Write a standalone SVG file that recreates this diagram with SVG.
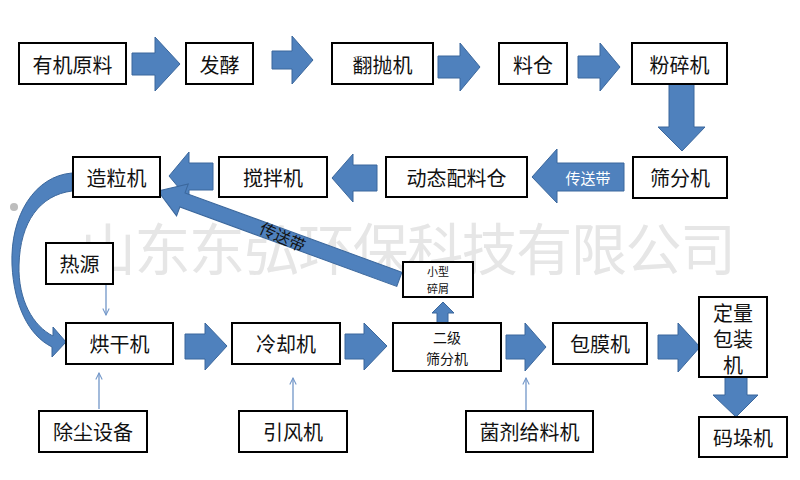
<svg xmlns="http://www.w3.org/2000/svg" width="800" height="480" viewBox="0 0 800 480">
<defs>
<style>
.bx{fill:#fff;stroke:#000;stroke-width:2}
.t{font-family:"Noto Sans CJK SC","Noto Sans",sans-serif;font-size:20px;fill:#111;text-anchor:middle;dominant-baseline:central}
.ar{fill:#4f81bd;stroke:#3b679c;stroke-width:1}
.th{stroke:#7196c8;stroke-width:1.3;fill:none;marker-end:url(#v)}
.wm{font-family:"Noto Sans CJK SC",sans-serif;font-size:56px;fill:#e6e6e6;dominant-baseline:central}
</style>
<marker id="v" viewBox="0 0 10 10" refX="9" refY="5" markerWidth="8" markerHeight="8" markerUnits="userSpaceOnUse" orient="auto">
<path d="M1,1 L9,5 L1,9" fill="none" stroke="#7196c8" stroke-width="1.3"/>
</marker>
</defs>
<rect width="800" height="480" fill="#fff"/>
<text class="wm" x="80" y="245" textLength="656">山东东弘环保科技有限公司</text>
<circle cx="14" cy="207" r="4" fill="#bdbdbd"/>

<g id="connectors">
<polygon class="ar" points="132,53 155,53 155,37 180,64 155,91 155,75 132,75"/>
<polygon class="ar" points="272,51 292,51 292,36 313,60 292,84 292,69 272,69"/>
<polygon class="ar" points="438,56 460,56 460,43 480,67 460,91 460,78 438,78"/>
<polygon class="ar" points="578,56 600,56 600,43 620,67 600,91 600,78 578,78"/>
<polygon class="ar" points="669,84 694,84 694,127 705,127 682,151 658,127 669,127"/>
<polygon class="ar" points="624,163 557,163 557,149 532,177 557,203 557,191 624,191"/>
<text x="588" y="177" style="font-family:'Noto Sans CJK SC',sans-serif;font-size:15px;fill:#fff;text-anchor:middle;dominant-baseline:central">传送带</text>
<polygon class="ar" points="377,165 353,165 353,154 332,178 353,202 353,191 377,191"/>
<polygon class="ar" points="213,163 189,163 189,152 169,176 189,200 189,190 213,190"/>
<g transform="translate(158,191) rotate(20.1)">
<polygon class="ar" points="0,0 26,-17 26,-7.5 257,-7.5 257,7.5 26,7.5 26,17"/>
</g>
<text x="283" y="236" transform="rotate(24 283 236)" style="font-family:'Noto Sans CJK SC',sans-serif;font-size:16px;fill:#111;text-anchor:middle;dominant-baseline:central">传送带</text>
<path class="ar" d="M72,173 C35,176 10,215 12,265 C14,305 28,335 52,347 L52,357 L66,342 L53,327 L53,336 C33,326 18,300 19,265 C20,222 40,195 72,191 Z"/>
<polygon class="ar" points="185,334 205,334 205,323 227,346 205,370 205,359 185,359"/>
<polygon class="ar" points="345,334 364,334 364,323 387,346 364,370 364,359 345,359"/>
<polygon class="ar" points="506,335 525,335 525,323 546,347 525,371 525,359 506,359"/>
<polygon class="ar" points="658,335 678,335 678,323 700,347 678,372 678,359 658,359"/>
<polygon class="ar" points="437,323 437,313 432,313 443,302 454,313 448,313 448,323"/>
<polygon class="ar" points="725,377 747,377 747,395 758,395 736,417 713,395 725,395"/>
<line class="th" x1="106" y1="285" x2="106" y2="315"/>
<line class="th" x1="99" y1="409" x2="99" y2="373"/>
<line class="th" x1="293" y1="410" x2="293" y2="378"/>
<line class="th" x1="526" y1="410" x2="526" y2="378"/>
</g>

<g id="n1"><rect class="bx" x="19" y="43" width="107" height="41"/><text class="t" x="72.5" y="64">有机原料</text></g>
<g id="n2"><rect class="bx" x="186" y="43" width="67" height="41"/><text class="t" x="219.5" y="64">发酵</text></g>
<g id="n3"><rect class="bx" x="332" y="43" width="101" height="41"/><text class="t" x="382.5" y="64">翻抛机</text></g>
<g id="n4"><rect class="bx" x="499" y="43" width="68" height="41"/><text class="t" x="533" y="64">料仓</text></g>
<g id="n5"><rect class="bx" x="632" y="43" width="95" height="41"/><text class="t" x="679.5" y="64">粉碎机</text></g>
<g id="n6"><rect class="bx" x="633" y="157" width="94" height="41"/><text class="t" x="680" y="177.5">筛分机</text></g>
<g id="n7"><rect class="bx" x="386" y="157" width="141" height="40"/><text class="t" x="456.5" y="177">动态配料仓</text></g>
<g id="n8"><rect class="bx" x="219" y="157" width="108" height="40"/><text class="t" x="273" y="177">搅拌机</text></g>
<g id="n9"><rect class="bx" x="73" y="157" width="87" height="40"/><text class="t" x="116.5" y="177">造粒机</text></g>
<g id="n10"><rect class="bx" x="46" y="243" width="67" height="41"/><text class="t" x="79.5" y="263.5">热源</text></g>
<g id="n11"><rect class="bx" x="66" y="323" width="107" height="41"/><text class="t" x="119.5" y="343.5">烘干机</text></g>
<g id="n12"><rect class="bx" x="232" y="323" width="108" height="41"/><text class="t" x="286" y="343.5">冷却机</text></g>
<g id="n13"><rect class="bx" x="393" y="323" width="108" height="48"/><text class="t" x="447" y="337" style="font-size:14px">二级</text><text class="t" x="447" y="358" style="font-size:14px">筛分机</text></g>
<g id="n14"><rect class="bx" x="403" y="262" width="70" height="35"/><text class="t" x="438" y="271" style="font-size:11px">小型</text><text class="t" x="438" y="288" style="font-size:11px">碎屑</text></g>
<g id="n15"><rect class="bx" x="553" y="323" width="94" height="41"/><text class="t" x="600" y="343.5">包膜机</text></g>
<g id="n16"><rect class="bx" x="699" y="297" width="68" height="80"/><text class="t" x="733" y="312">定量</text><text class="t" x="733" y="338">包装</text><text class="t" x="733" y="364">机</text></g>
<g id="n17"><rect class="bx" x="699" y="417" width="88" height="40"/><text class="t" x="743" y="437">码垛机</text></g>
<g id="n18"><rect class="bx" x="39" y="411" width="108" height="41"/><text class="t" x="93" y="431.5">除尘设备</text></g>
<g id="n19"><rect class="bx" x="239" y="411" width="108" height="41"/><text class="t" x="293" y="431.5">引风机</text></g>
<g id="n20"><rect class="bx" x="466" y="411" width="127" height="41"/><text class="t" x="529.5" y="431.5">菌剂给料机</text></g>
</svg>
